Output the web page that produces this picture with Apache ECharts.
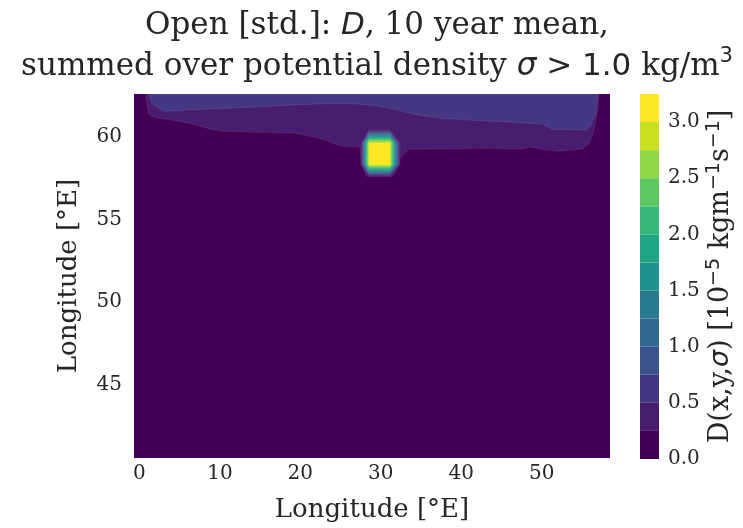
<!DOCTYPE html>
<html>
<head>
<meta charset="utf-8">
<script src="https://cdn.jsdelivr.net/npm/echarts@6/dist/echarts.min.js"></script>
<style>
  html, body { margin: 0; padding: 0; background: #fff; }
  #chart { width: 743px; height: 528px; }
</style>
</head>
<body>
<div id="chart"></div>
<script>
// axes
const xTicks = [0, 10, 20, 30, 40, 50]
const yTicks = [45, 50, 55, 60]
const xRange = [-0.68, 58.5]
const yRange = [40.6, 62.56]

// contour levels and viridis colours (one per band)
const levels = [0, 0.25, 0.5, 0.75, 1, 1.25, 1.5, 1.75, 2, 2.25, 2.5, 2.75, 3, 3.25]
const levelColors = ['#440154', '#481d6f', '#453781', '#3b528b', '#31688e', '#287c8e', '#21918c',
  '#20a486', '#35b779', '#5ec962', '#90d743', '#c8e020', '#fde725']
const cbarTicks = [0, 0.5, 1, 1.5, 2, 2.5, 3]

// 0.25 contour, west to east (bends round the blob near 30E)
const edge025 = [[0.77, 62.56], [1.02, 61.72], [1.18, 61.36], [1.93, 61.12], [3.58, 61.02], [5.65, 60.86],
  [7.30, 60.66], [8.97, 60.42], [10.62, 60.32], [13.94, 60.26], [19.11, 60.22], [21.18, 60.02],
  [23.25, 59.76], [24.91, 59.42], [27.39, 59.38], [27.60, 58.30], [28.22, 57.60], [31.49, 57.60],
  [32.36, 58.30], [32.36, 58.62], [33.39, 59.22], [37.54, 59.26], [42.92, 59.29], [47.68, 59.26],
  [48.51, 59.36], [50.16, 59.22], [52.24, 59.12], [55.13, 59.26], [55.96, 59.62], [56.58, 60.52],
  [56.99, 61.72], [57.12, 62.56]]

// 0.5 contour, west to east
const edge050 = [[1.18, 62.56], [1.52, 62.02], [2.34, 61.72], [3.17, 61.52], [5.24, 61.56], [8.55, 61.66],
  [13.94, 61.76], [17.86, 61.87], [22.01, 61.96], [26.15, 61.99], [29.25, 61.87], [31.74, 61.62],
  [34.22, 61.33], [37.54, 61.09], [41.68, 60.97], [46.40, 60.86], [50.12, 60.73], [51.37, 60.42],
  [53.07, 60.42], [55.55, 60.37], [56.17, 60.72], [56.80, 61.52], [56.99, 62.56]]

// blob near (30E, 59): extent of each level ring
const ringLevels = [0.25, 0.5, 0.75, 1, 1.25, 1.5, 1.75, 2, 2.25, 2.5, 2.75, 3]
const ringWest = [27.60, 27.69, 27.77, 27.86, 27.95, 28.03, 28.12, 28.21, 28.29, 28.38, 28.46, 28.55]
const ringEast = [32.36, 32.25, 32.13, 32.02, 31.91, 31.80, 31.68, 31.57, 31.46, 31.35, 31.23, 31.12]
const ringSouth = [57.60, 57.66, 57.73, 57.79, 57.85, 57.92, 57.98, 58.05, 58.11, 58.17, 58.24, 58.30]
const ringNorth = [60.40, 60.33, 60.26, 60.18, 60.11, 60.04, 59.96, 59.89, 59.82, 59.75, 59.67, 59.60]

const colorOf = (v) => levelColors[Math.round(v / 0.25)]

const shapes = [
  { pts: edge025, color: colorOf(0.25) },
  { pts: edge050, color: colorOf(0.5) }
]
const last = ringLevels.length - 1
const cW = ringWest[last], cE = ringEast[last], cS = ringSouth[last], cN = ringNorth[last]
ringLevels.forEach((lv, k) => {
  shapes.push({
    color: colorOf(lv),
    pts: [[cW, ringNorth[k]], [cE, ringNorth[k]], [ringEast[k], cN], [ringEast[k], cS],
      [cE, ringSouth[k]], [cW, ringSouth[k]], [ringWest[k], cS], [ringWest[k], cN]]
  })
})

const serif = 'DejaVu Serif'
const ink = '#262626'

const chart = echarts.init(document.getElementById('chart'), null, { renderer: 'canvas' })

const option = {
  animation: false,
  backgroundColor: '#fff',
  title: {
    left: 372,
    top: 0,
    textAlign: 'center',
    text: '{n|Open [std.]: }{i|D}{n|, 10 year mean,}\n{n|summed over potential density }{i|σ}{m| > 1.0}{n| kg/m}{sup|3}',
    textStyle: {
      fontWeight: 'normal',
      rich: {
        n: { fontFamily: serif, fontSize: 31, fontWeight: 'normal', color: ink, lineHeight: 41 },
        i: { fontFamily: 'DejaVu Sans', fontStyle: 'italic', fontWeight: 'normal', fontSize: 31, color: ink, lineHeight: 41 },
        m: { fontFamily: 'DejaVu Sans', fontWeight: 'normal', fontSize: 31, color: ink, lineHeight: 41 },
        sup: { fontFamily: 'DejaVu Sans', fontWeight: 'normal', fontSize: 21, color: ink, lineHeight: 24, verticalAlign: 'top' }
      }
    }
  },
  grid: [
    { left: 134, top: 94, width: 476, height: 366, show: true, backgroundColor: levelColors[0], borderWidth: 0 },
    { left: 640, top: 94, width: 19, height: 365, show: false }
  ],
  xAxis: [
    {
      gridIndex: 0, type: 'value', min: xRange[0], max: xRange[1],
      axisLine: { show: false }, axisTick: { show: false }, splitLine: { show: false },
      axisLabel: { customValues: xTicks, fontFamily: serif, fontSize: 20, color: ink, margin: 6 },
      name: 'Longitude [°E]', nameLocation: 'middle', nameGap: 39,
      nameTextStyle: { fontFamily: serif, fontSize: 26, color: ink }
    },
    { gridIndex: 1, type: 'value', min: 0, max: 1, show: false }
  ],
  yAxis: [
    {
      gridIndex: 0, type: 'value', min: yRange[0], max: yRange[1],
      axisLine: { show: false }, axisTick: { show: false }, splitLine: { show: false },
      axisLabel: { customValues: yTicks, fontFamily: serif, fontSize: 20, color: ink, margin: 12 },
      name: 'Longitude [°E]', nameLocation: 'middle', nameGap: 52, nameRotate: 90,
      nameTextStyle: { fontFamily: serif, fontSize: 26, color: ink }
    },
    {
      gridIndex: 1, type: 'value', min: 0, max: 3.25, position: 'right',
      axisLine: { show: false }, axisTick: { show: false }, splitLine: { show: false },
      axisLabel: { customValues: cbarTicks, formatter: (v) => v.toFixed(1), fontFamily: serif, fontSize: 20, color: ink, margin: 9 },
      name: '{n|D(x,y,}{i|σ}{n|) [10}{sup|−5}{n| kgm}{sup|−1}{n|s}{sup|−1}{n|]}',
      nameLocation: 'middle', nameGap: 46, nameRotate: 90,
      nameTextStyle: {
        rich: {
          n: { fontFamily: serif, fontSize: 27, color: ink, lineHeight: 32 },
          i: { fontFamily: 'DejaVu Sans', fontStyle: 'italic', fontSize: 27, color: ink, lineHeight: 32 },
          sup: { fontFamily: 'DejaVu Sans', fontSize: 19, color: ink, lineHeight: 19, verticalAlign: 'top' }
        }
      }
    }
  ],
  series: [
    {
      type: 'custom',
      xAxisIndex: 0, yAxisIndex: 0,
      clip: true,
      data: shapes.map(s => s.pts[0]),
      renderItem: (params, api) => {
        const s = shapes[params.dataIndex]
        return {
          type: 'polygon',
          shape: { points: s.pts.map(p => api.coord(p)) },
          style: { fill: s.color, stroke: 'rgba(255,255,255,0.15)', lineWidth: 0.6 }
        }
      }
    },
    {
      type: 'custom',
      xAxisIndex: 1, yAxisIndex: 1,
      data: levels.slice(0, -1).map((lo, i) => [0, lo, levels[i + 1]]),
      renderItem: (params, api) => {
        const lo = api.value(1), hi = api.value(2)
        const p0 = api.coord([0, hi])
        const p1 = api.coord([1, lo])
        return {
          type: 'rect',
          shape: { x: p0[0], y: p0[1], width: p1[0] - p0[0], height: p1[1] - p0[1] },
          style: { fill: levelColors[params.dataIndex] }
        }
      }
    }
  ]
}

chart.setOption(option)
</script>
</body>
</html>
